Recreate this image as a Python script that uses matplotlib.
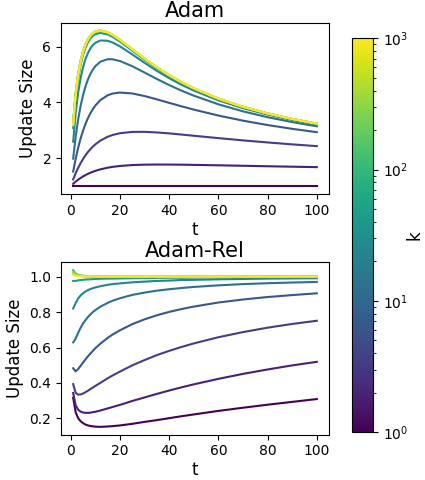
import numpy as np
import matplotlib; matplotlib.use('Agg')
import matplotlib.pyplot as plt
from matplotlib.colors import LogNorm

# k values (log-spaced, 1 .. 1000) and the steps t
k_vals = [1, 1.874, 3.511, 6.579, 12.33, 23.10, 43.29, 81.11, 152.0, 284.8, 533.7, 1000]
t = [1, 2, 3, 4, 5, 6, 7, 8, 9, 10, 12, 15, 17, 20, 25, 30, 35, 40, 45, 50, 60, 70, 80, 90, 100]

# Adam update size, one row per k
adam = [
    [1.000]*25,
    [1.086, 1.163, 1.232, 1.294, 1.349, 1.399, 1.443, 1.483, 1.518, 1.550, 1.603, 1.663, 1.693, 1.725, 1.757, 1.772, 1.777, 1.775, 1.771, 1.764, 1.749, 1.732, 1.715, 1.699, 1.683],
    [1.244, 1.461, 1.653, 1.823, 1.973, 2.106, 2.224, 2.327, 2.418, 2.498, 2.630, 2.770, 2.834, 2.897, 2.944, 2.947, 2.925, 2.891, 2.850, 2.807, 2.722, 2.641, 2.567, 2.498, 2.435],
    [1.526, 1.978, 2.367, 2.700, 2.985, 3.229, 3.436, 3.613, 3.762, 3.887, 4.079, 4.254, 4.316, 4.353, 4.321, 4.228, 4.110, 3.984, 3.861, 3.743, 3.530, 3.347, 3.190, 3.054, 2.935],
    [1.988, 2.763, 3.377, 3.867, 4.259, 4.572, 4.822, 5.020, 5.175, 5.296, 5.454, 5.546, 5.543, 5.482, 5.295, 5.069, 4.839, 4.622, 4.422, 4.242, 3.932, 3.680, 3.471, 3.295, 3.144],
    [2.593, 3.618, 4.338, 4.863, 5.255, 5.549, 5.769, 5.932, 6.050, 6.132, 6.216, 6.206, 6.145, 6.006, 5.718, 5.417, 5.128, 4.867, 4.633, 4.425, 4.075, 3.794, 3.566, 3.374, 3.212],
    [3.085, 4.148, 4.845, 5.337, 5.695, 5.957, 6.148, 6.285, 6.379, 6.440, 6.486, 6.433, 6.348, 6.180, 5.855, 5.528, 5.220, 4.944, 4.698, 4.481, 4.118, 3.829, 3.594, 3.398, 3.233],
    [3.273, 4.312, 4.990, 5.467, 5.813, 6.065, 6.248, 6.378, 6.467, 6.522, 6.559, 6.495, 6.404, 6.228, 5.894, 5.560, 5.246, 4.966, 4.717, 4.497, 4.131, 3.839, 3.602, 3.405, 3.238],
    [3.279, 4.322, 5.002, 5.480, 5.827, 6.080, 6.263, 6.393, 6.482, 6.537, 6.574, 6.509, 6.417, 6.240, 5.904, 5.568, 5.254, 4.972, 4.722, 4.502, 4.134, 3.842, 3.605, 3.407, 3.240],
    [3.242, 4.300, 4.987, 5.470, 5.819, 6.075, 6.260, 6.391, 6.480, 6.536, 6.574, 6.510, 6.418, 6.242, 5.906, 5.570, 5.255, 4.974, 4.724, 4.503, 4.135, 3.842, 3.605, 3.407, 3.241],
    [3.210, 4.280, 4.972, 5.459, 5.811, 6.068, 6.254, 6.386, 6.477, 6.533, 6.572, 6.509, 6.418, 6.242, 5.906, 5.570, 5.256, 4.974, 4.724, 4.504, 4.135, 3.843, 3.606, 3.408, 3.241],
    [3.189, 4.267, 4.963, 5.451, 5.805, 6.063, 6.250, 6.383, 6.474, 6.531, 6.571, 6.508, 6.417, 6.242, 5.906, 5.570, 5.256, 4.974, 4.724, 4.504, 4.136, 3.843, 3.606, 3.408, 3.241],
]

# Adam-Rel update size, one row per k
adam_rel = [
    [0.316, 0.235, 0.202, 0.184, 0.173, 0.165, 0.160, 0.157, 0.155, 0.153, 0.152, 0.154, 0.156, 0.160, 0.169, 0.180, 0.190, 0.201, 0.212, 0.222, 0.242, 0.260, 0.277, 0.293, 0.309],
    [0.343, 0.274, 0.249, 0.238, 0.233, 0.231, 0.231, 0.232, 0.235, 0.237, 0.244, 0.256, 0.264, 0.276, 0.298, 0.318, 0.338, 0.357, 0.375, 0.392, 0.423, 0.451, 0.476, 0.499, 0.519],
    [0.393, 0.344, 0.334, 0.335, 0.340, 0.348, 0.356, 0.365, 0.374, 0.383, 0.400, 0.426, 0.442, 0.464, 0.499, 0.529, 0.557, 0.581, 0.603, 0.623, 0.658, 0.687, 0.712, 0.733, 0.751],
    [0.483, 0.465, 0.478, 0.496, 0.515, 0.533, 0.550, 0.566, 0.581, 0.596, 0.621, 0.654, 0.673, 0.697, 0.732, 0.759, 0.782, 0.801, 0.817, 0.831, 0.854, 0.871, 0.885, 0.896, 0.906],
    [0.629, 0.650, 0.682, 0.711, 0.735, 0.755, 0.772, 0.787, 0.800, 0.811, 0.830, 0.852, 0.864, 0.878, 0.897, 0.910, 0.921, 0.929, 0.936, 0.942, 0.951, 0.958, 0.963, 0.967, 0.970],
    [0.820, 0.851, 0.876, 0.894, 0.906, 0.916, 0.924, 0.930, 0.935, 0.939, 0.946, 0.954, 0.958, 0.962, 0.968, 0.972, 0.976, 0.978, 0.981, 0.982, 0.985, 0.987, 0.989, 0.990, 0.991],
    [0.976, 0.976, 0.979, 0.981, 0.982, 0.984, 0.984, 0.985, 0.986, 0.987, 0.988, 0.989, 0.989, 0.990, 0.991, 0.992, 0.993, 0.994, 0.994, 0.995, 0.996, 0.996, 0.997, 0.997, 0.997],
    [1.035, 1.015, 1.008, 1.005, 1.003, 1.001, 1.001, 1.000, 0.999, 0.999, 0.999, 0.998, 0.998, 0.998, 0.998, 0.998, 0.998, 0.998, 0.998, 0.999, 0.999, 0.999, 0.999, 0.999, 0.999],
    [1.037, 1.017, 1.010, 1.007, 1.005, 1.004, 1.003, 1.002, 1.002, 1.001, 1.001] + [1.000]*14,
    [1.025, 1.012, 1.007, 1.005, 1.004, 1.003, 1.002, 1.002, 1.002, 1.001, 1.001] + [1.000]*14,
    [1.015, 1.007, 1.004, 1.003, 1.002, 1.002, 1.001, 1.001, 1.001, 1.001, 1.001] + [1.000]*14,
    [1.009, 1.004, 1.003, 1.002, 1.001, 1.001, 1.001, 1.001, 1.001] + [1.000]*16,
]

norm = LogNorm(vmin=1, vmax=1000)
cmap = plt.get_cmap('viridis')

fig = plt.figure(figsize=(4.25, 4.8), dpi=100)
ax1 = fig.add_axes([0.1435, 0.5958, 0.6306, 0.3569])
ax2 = fig.add_axes([0.1435, 0.0944, 0.6306, 0.3592])
cax = fig.add_axes([0.8282, 0.0994, 0.0494, 0.8208])

for ax, data, title in [(ax1, adam, 'Adam'), (ax2, adam_rel, 'Adam-Rel')]:
    for k, y in zip(k_vals, data):
        ax.plot(t, y, color=cmap(norm(k)), lw=1.5)
    ax.set_title(title, fontsize=15, pad=4)
    ax.set_xlabel('t', fontsize=12, labelpad=2)
    ax.set_ylabel('Update Size', fontsize=12)
    ax.tick_params(labelsize=10)
    ax.set_xticks([0, 20, 40, 60, 80, 100])

sm = plt.cm.ScalarMappable(norm=norm, cmap=cmap)
cb = fig.colorbar(sm, cax=cax)
cb.set_label('k', fontsize=12, labelpad=-2)
cb.ax.tick_params(labelsize=10)

plt.savefig('out.png', dpi=100)
